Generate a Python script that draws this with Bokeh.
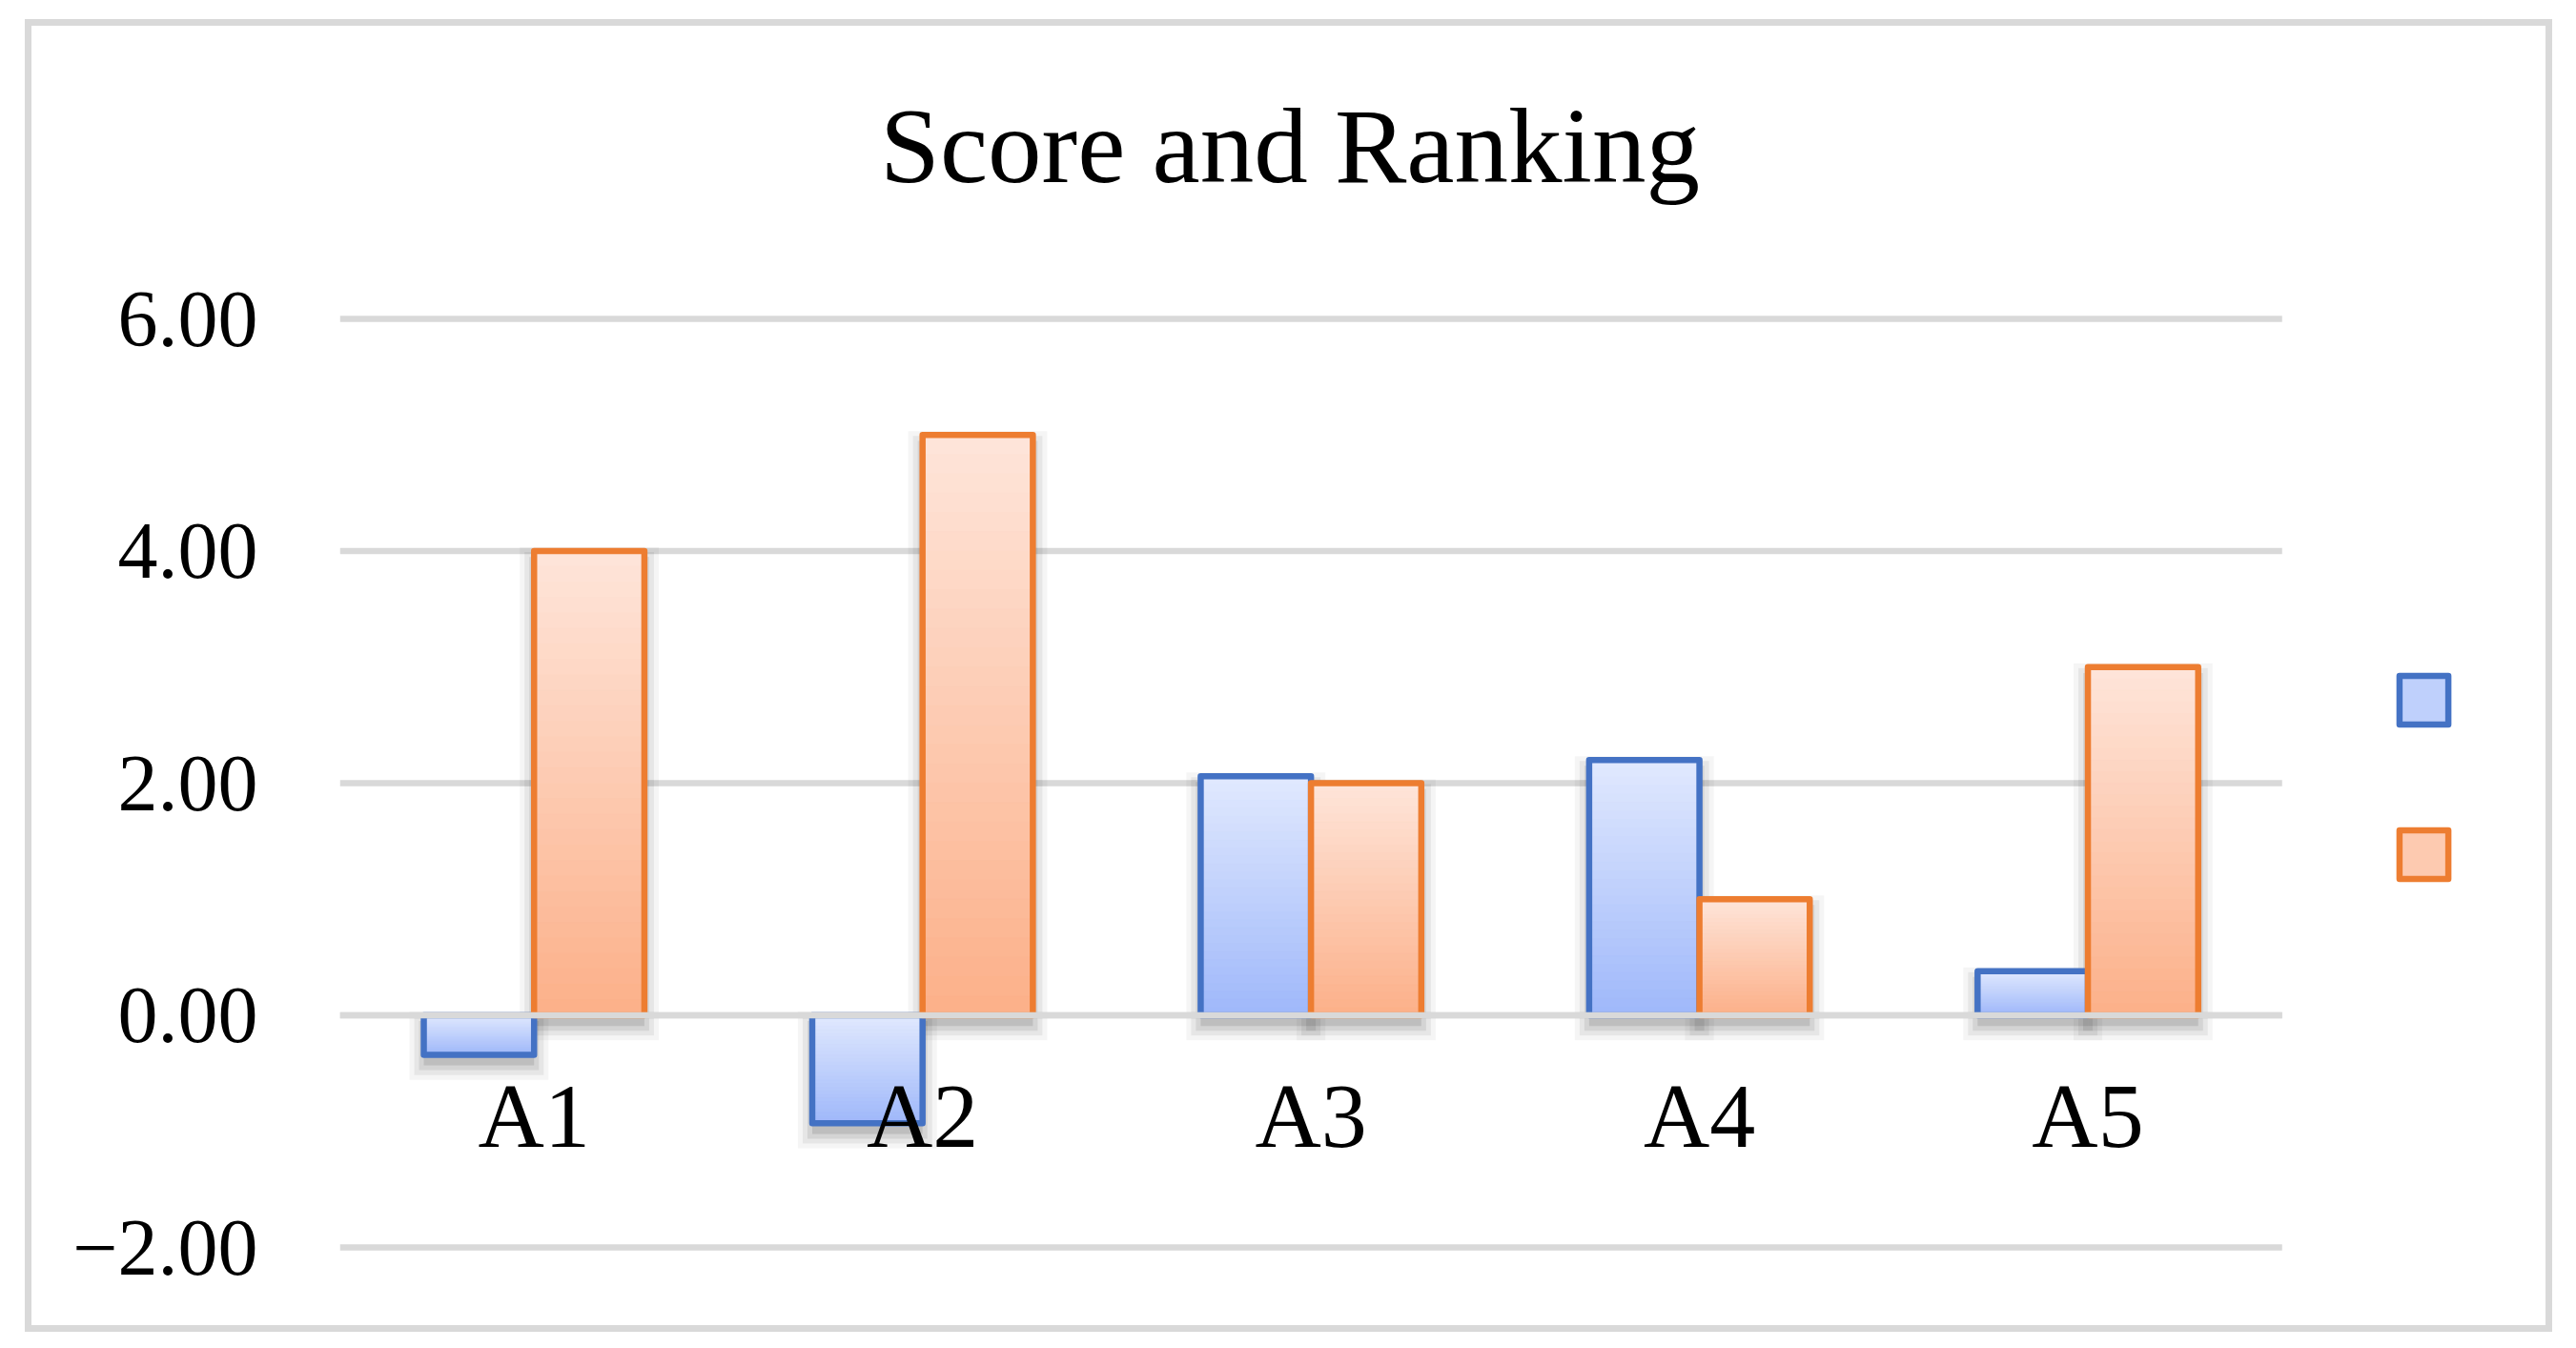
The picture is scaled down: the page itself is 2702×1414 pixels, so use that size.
import numpy as np
from bokeh.plotting import figure
from bokeh.models import (ColumnDataSource, FixedTicker, CustomJSTickFormatter,
                          Legend, LegendItem, Range1d, Label)
from bokeh.embed import file_html
from bokeh.resources import INLINE

# ---------------- data ----------------
categories = ["A1", "A2", "A3", "A4", "A5"]
score = [-0.34, -0.93, 2.06, 2.20, 0.38]
ranking = [4, 5, 2, 1, 3]
series_names = ["Score", "Ranking"]   # legend texts are blank in the reference
y_ticks = [-2, 0, 2, 4, 6]
y_min, y_max = -2, 6
title_text = "Score and Ranking"

# ---------------- style / layout ----------------
FONT = "Liberation Serif"
GRID = "#D9D9D9"
BLUE_LINE, ORANGE_LINE = "#4472C4", "#ED7D31"
BLUE_TOP, BLUE_BOT = (225, 233, 254), (159, 184, 250)
ORANGE_TOP, ORANGE_BOT = (254, 229, 218), (252, 176, 137)

W_IN, H_IN = 2637, 1363          # inside the 7px chart border
PLOT_L = 323                     # plot area left (px from inner left)
PLOT_W = 2025                    # plot area width
PLOT_T = 304                     # px of y_max line from inner top
Y_PX = 120.5                     # px per y unit
NCAT = len(categories)
X_PX = PLOT_W / NCAT
BAR_W = 115 / X_PX
N_SLICES = 30

x_end = (W_IN - PLOT_L) / X_PX
y_top = y_max + PLOT_T / Y_PX
y_bot = y_max - (H_IN - PLOT_T) / Y_PX

p = figure(width=W_IN, height=H_IN, x_range=Range1d(0, x_end), y_range=Range1d(y_bot, y_top),
           output_backend="svg", toolbar_location=None,
           min_border_left=PLOT_L, min_border_right=0, min_border_top=0, min_border_bottom=0)
p.styles = {"box-sizing": "content-box", "border": "7px solid #D9D9D9",
            "margin": "0px", "position": "relative", "left": "26px", "top": "20px"}
p.outline_line_color = None
p.background_fill_color = "white"
p.border_fill_color = "white"
p.xgrid.visible = False
p.ygrid.visible = False

# y axis
p.yaxis.ticker = FixedTicker(ticks=y_ticks)
p.yaxis.formatter = CustomJSTickFormatter(
    code="return (tick < 0 ? '\u2212' : '') + Math.abs(tick).toFixed(2);")
p.yaxis.axis_line_color = None
p.yaxis.major_tick_line_color = None
p.yaxis.minor_tick_line_color = None
p.yaxis.major_label_standoff = 80
p.yaxis.major_label_text_font = FONT
p.yaxis.major_label_text_font_size = "84px"
p.yaxis.major_label_text_color = "black"

# x axis labels next to the zero line
p.xaxis.ticker = FixedTicker(ticks=[i + 0.5 for i in range(NCAT)])
p.xaxis.formatter = CustomJSTickFormatter(args=dict(cats=categories),
                                          code="return cats[Math.floor(tick)];")
p.xaxis.fixed_location = 0
p.xaxis.axis_line_color = None
p.xaxis.major_tick_line_color = None
p.xaxis.minor_tick_line_color = None
p.xaxis.major_label_standoff = 46
p.xaxis.major_label_text_font = FONT
p.xaxis.major_label_text_font_size = "96px"
p.xaxis.major_label_text_color = "black"

# horizontal gridlines across the category span
p.segment(x0=[0] * len(y_ticks), x1=[NCAT] * len(y_ticks), y0=y_ticks, y1=y_ticks,
          line_color=GRID, line_width=6.5)


def lerp(c0, c1, f):
    return "#%02x%02x%02x" % tuple(int(round(a + (b - a) * f)) for a, b in zip(c0, c1))


def bar_geometry(vals, side):
    left, right, bottom, top = [], [], [], []
    for i, v in enumerate(vals):
        l = i + 0.5 - BAR_W if side < 0 else i + 0.5
        left.append(l)
        right.append(l + BAR_W)
        bottom.append(min(0, v))
        top.append(max(0, v))
    return left, right, bottom, top


series = [
    (score, -1, BLUE_TOP, BLUE_BOT, BLUE_LINE),
    (ranking, 1, ORANGE_TOP, ORANGE_BOT, ORANGE_LINE),
]

# soft shadows first
for vals, side, _, _, _ in series:
    l, r, b, t = bar_geometry(vals, side)
    dy = 11 / Y_PX
    for e, a in [(0, 0.10), (5, 0.08), (10, 0.06), (15, 0.04)]:
        ex, ey = e / X_PX, e / Y_PX
        src = ColumnDataSource(dict(
            left=[x - ex for x in l], right=[x + ex for x in r],
            bottom=[y - dy - ey for y in b], top=[y - dy + ey for y in t]))
        p.quad(left="left", right="right", bottom="bottom", top="top", source=src,
               fill_color="black", fill_alpha=a, line_color=None)

items = []
for (vals, side, ctop, cbot, cline), name in zip(series, series_names):
    l, r, b, t = bar_geometry(vals, side)
    order = [N_SLICES // 2] + [k for k in range(N_SLICES) if k != N_SLICES // 2]
    d = dict(left=[], right=[], bottom=[], top=[], color=[])
    for k in order:
        for i in range(len(vals)):
            h = t[i] - b[i]
            d["left"].append(l[i])
            d["right"].append(r[i])
            d["top"].append(t[i] - h * k / N_SLICES)
            d["bottom"].append(t[i] - h * (k + 1) / N_SLICES)
            d["color"].append(lerp(ctop, cbot, (k + 0.5) / N_SLICES))
    rs = p.quad(left="left", right="right", bottom="bottom", top="top",
                source=ColumnDataSource(d), fill_color="color", line_color="color", line_width=1)
    ro = p.quad(left="left", right="right", bottom="bottom", top="top",
                source=ColumnDataSource(dict(left=l, right=r, bottom=b, top=t)),
                fill_alpha=0, line_color=cline, line_width=6.5, line_join="round")
    items.append(LegendItem(label=" ", renderers=[rs, ro], index=0))

# zero (category axis) line drawn over the bars
p.segment(x0=[0], x1=[NCAT], y0=[0], y1=[0], line_color=GRID, line_width=6.5)

# legend to the right of the plot area
legend = Legend(items=items, location=(2477 - PLOT_L, H_IN - 899 + 12), orientation="vertical",
                glyph_width=64, glyph_height=64, spacing=98, padding=0, margin=0,
                label_standoff=0, label_width=0, label_text_font_size="1px",
                border_line_color=None, background_fill_alpha=0)
p.add_layout(legend)

# chart title, centred on the chart
title = Label(x=(W_IN / 2 - 5 - PLOT_L) / X_PX, y=y_max + (PLOT_T - 166 + 42) / Y_PX,
              text=title_text, text_align="center", text_baseline="alphabetic",
              text_font=FONT, text_font_size="113px", text_color="black")
p.add_layout(title)

open("out.html", "w").write(file_html(p, INLINE))
